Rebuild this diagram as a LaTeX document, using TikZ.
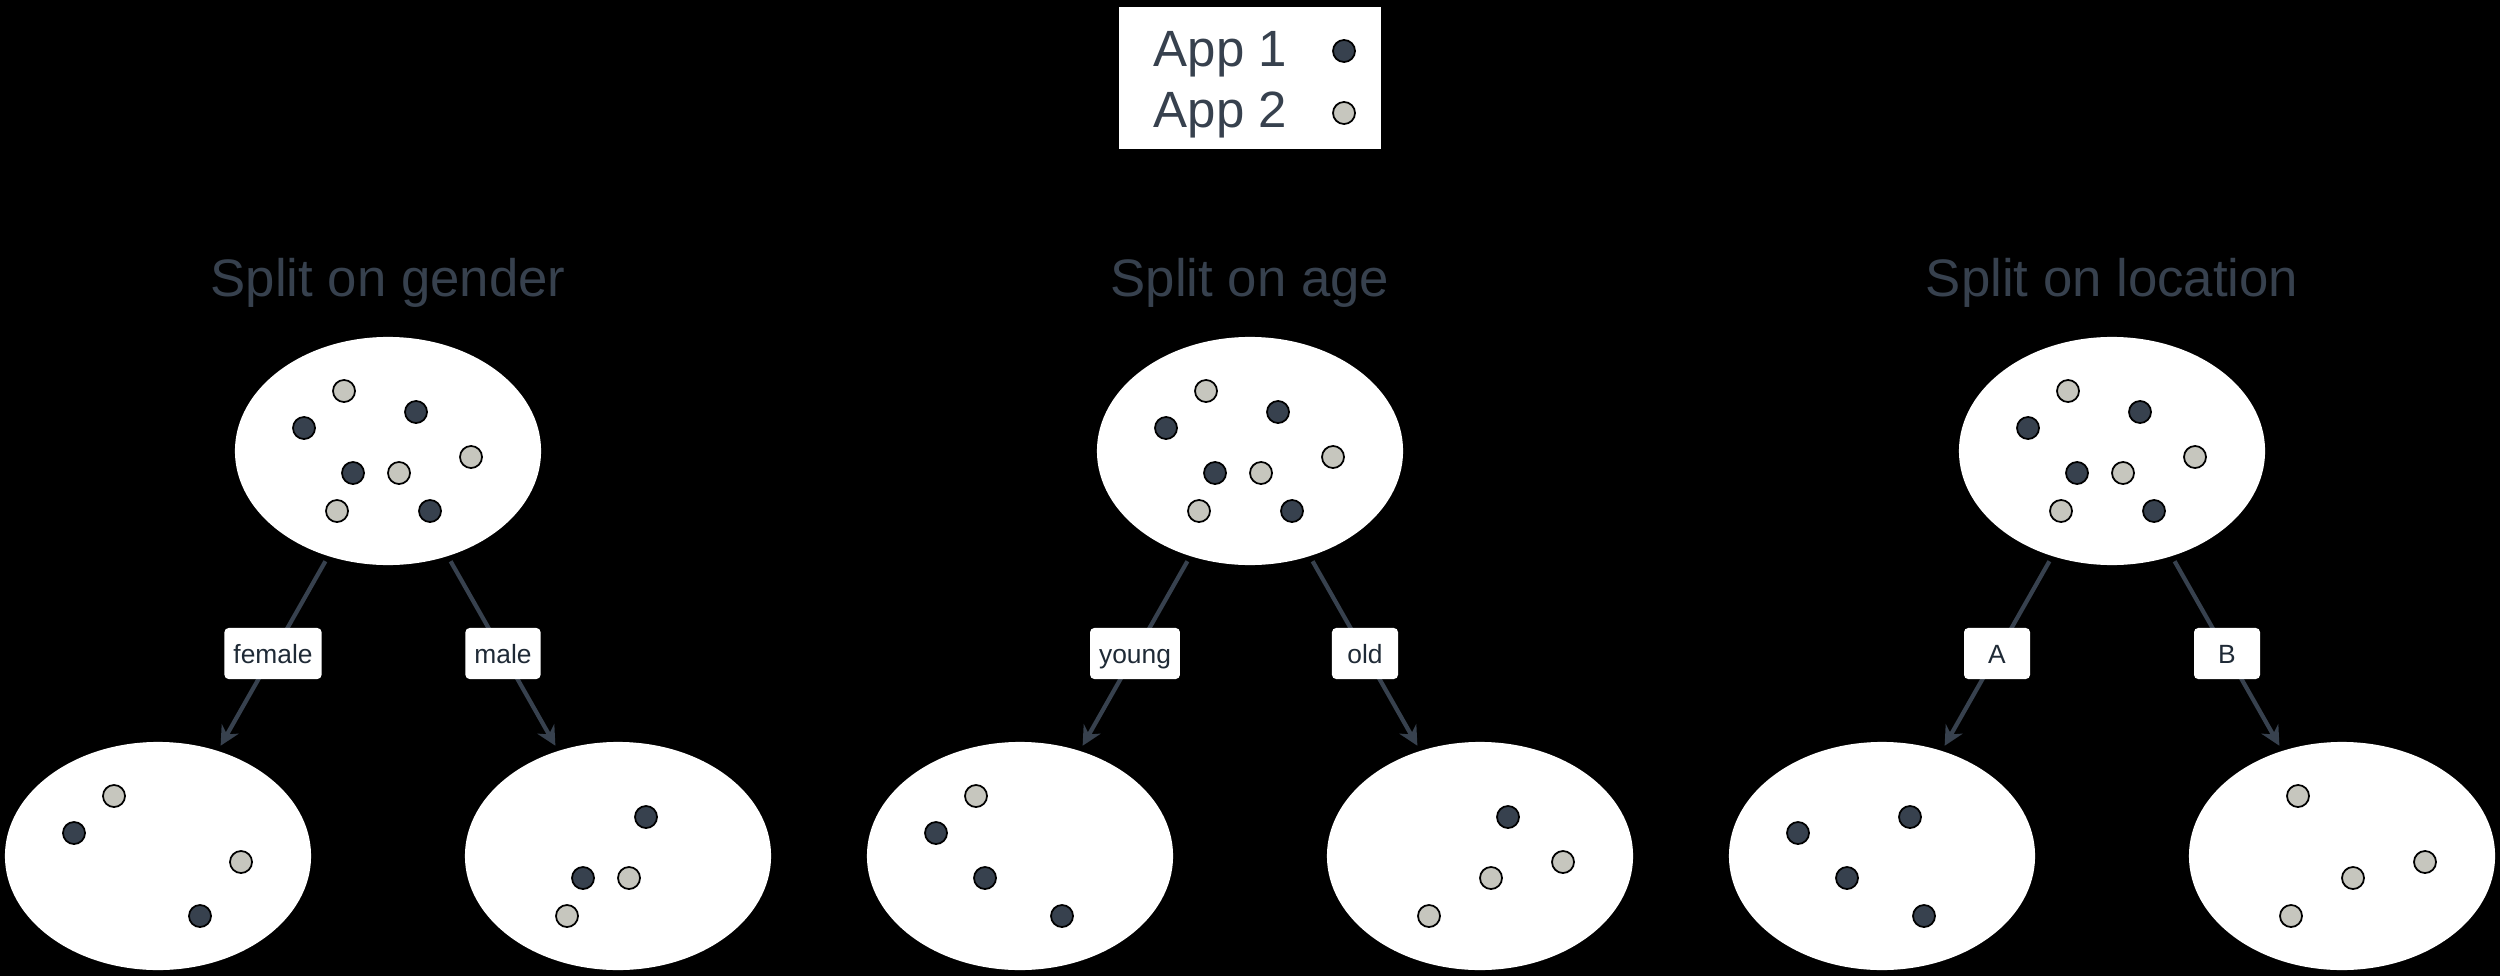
\documentclass[tikz,border=0pt]{standalone}
\usepackage{fontspec}
\setmainfont{Liberation Sans}
\usetikzlibrary{calc,arrows.meta,shapes.geometric}
\definecolor{slate}{HTML}{37414E}
\definecolor{pebble}{HTML}{C6C6BE}
\definecolor{ink}{HTML}{1F2A36}

\begin{document}
\begin{tikzpicture}[x=0.01cm,y=-0.01cm]
    \tikzstyle{group}=[ellipse,fill=white,minimum width=3.06cm,minimum height=2.28cm,inner sep=0pt]
    \tikzstyle{appone}=[circle,draw=black,line width=0.5pt,fill=slate,minimum size=0.22cm,inner sep=0pt]
    \tikzstyle{apptwo}=[appone,fill=pebble]
    \tikzstyle{heading}=[anchor=base,text=slate,font=\fontsize{15}{18}\selectfont]
    \tikzstyle{keytext}=[anchor=base west,text=slate,font=\fontsize{14.5}{17}\selectfont,inner sep=0pt]
    \tikzstyle{legend}=[rectangle,fill=white,minimum width=2.62cm,minimum height=1.42cm]
    \tikzstyle{cond}=[rectangle,rounded corners=1.2pt,fill=white,text=ink,font=\fontsize{7.5}{9}\selectfont,text height=0.55em,text depth=0pt,minimum width=0.66cm,minimum height=0.51cm,inner xsep=0.09cm]
    \tikzstyle{branch}=[draw=slate,line width=1.2pt,-{Stealth[length=5.5pt,width=5.5pt]},shorten >=1.5pt,shorten <=1.5pt]

    \useasboundingbox (0,0) rectangle (2500,976);
    \fill[black] (0,0) rectangle (2500,976);

    % legend
    \node[legend] (key) at (1250,78) {};
    \node[keytext] (key-1) at (1153,67) {App 1};
    \node[keytext] (key-2) at (1153,128) {App 2};
    \node[appone] (key-dot-1) at (1344,51) {};
    \node[apptwo] (key-dot-2) at (1344,113) {};

    % the three splits
    \foreach \name/\x/\title in {gender/388/Split on gender, age/1250/Split on age, location/2112/Split on location} {
        \node[heading] (title-\name) at (\x,296) {\title};
        \node[group] (root-\name) at (\x,451) {};
        \foreach \kind/\dx/\dy [count=\i] in {apptwo/-44/-60, appone/-84/-23, appone/28/-39, apptwo/83/6, appone/-35/22, apptwo/11/22, apptwo/-51/60, appone/42/60}
            \node[\kind] (dot-\name-\i) at ($(root-\name)+(\dx,\dy)$) {};
    }

    \foreach \from/\to/\x/\pts in {
        gender/female/158/{apptwo/-44/-60, appone/-84/-23, apptwo/83/6, appone/42/60},
        gender/male/618/{appone/28/-39, appone/-35/22, apptwo/11/22, apptwo/-51/60},
        age/young/1020/{apptwo/-44/-60, appone/-84/-23, appone/-35/22, appone/42/60},
        age/old/1480/{appone/28/-39, apptwo/83/6, apptwo/11/22, apptwo/-51/60},
        location/A/1882/{appone/-84/-23, appone/28/-39, appone/-35/22, appone/42/60},
        location/B/2342/{apptwo/-44/-60, apptwo/83/6, apptwo/11/22, apptwo/-51/60}} {
        \node[group] (leaf-\to) at (\x,856) {};
        \draw[branch] (root-\from) -- node[cond] {\to} (leaf-\to);
        \foreach \kind/\dx/\dy [count=\i] in \pts
            \node[\kind] (dot-\to-\i) at ($(leaf-\to)+(\dx,\dy)$) {};
    }
\end{tikzpicture}
\end{document}
